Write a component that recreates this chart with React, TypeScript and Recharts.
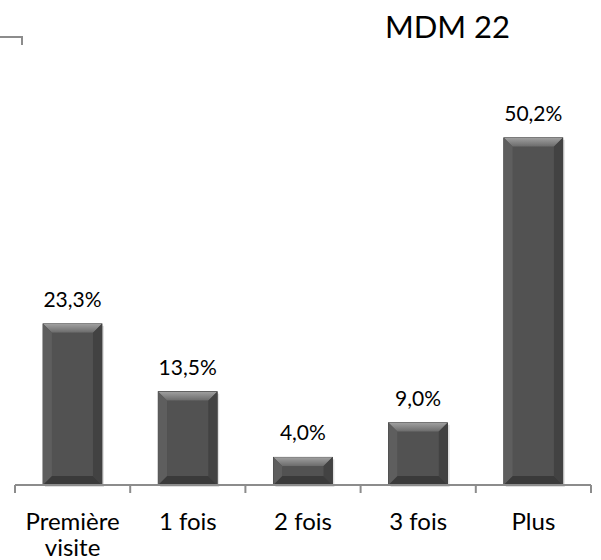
import React from 'react';
import { BarChart, Bar, XAxis, YAxis, LabelList } from 'recharts';

const categories = ['Première visite', '1 fois', '2 fois', '3 fois', 'Plus'];
const tickLabelLines = [['Première', 'visite'], ['1 fois'], ['2 fois'], ['3 fois'], ['Plus']];
const values = [23.3, 13.5, 4.0, 9.0, 50.2];
const title = 'MDM 22';

const data = categories.map((c, i) => ({ name: c, value: values[i] }));

const W = 601;
const H = 560;
const M = { top: 70, right: 10, left: 15, bottom: 0 };
const XAXIS_H = 75;
const BAND = (W - M.left - M.right) / categories.length;
const FONT = 'Lato, "Open Sans", sans-serif';

const BevelBar = (props: any) => {
  const { x, y, width, height, index } = props;
  if (!height || height <= 0) return null;
  const b = Math.min(9, height / 2, width / 2);
  const id = `tg${index}`;
  return (
    <g>
      <defs>
        <linearGradient id={id} x1="0" y1="0" x2="0" y2="1">
          <stop offset="0%" stopColor="#a0a0a0" />
          <stop offset="100%" stopColor="#6a6a6a" />
        </linearGradient>
      </defs>
      <rect x={x + 2} y={y + 2} width={width} height={height} fill="#000" opacity={0.12} />
      <rect x={x} y={y} width={width} height={height} fill="#4f4f4f" stroke="#2e2e2e" strokeWidth={0.8} />
      <polygon points={`${x},${y} ${x + width},${y} ${x + width - b},${y + b} ${x + b},${y + b}`} fill={`url(#${id})`} />
      <polygon points={`${x},${y} ${x + b},${y + b} ${x + b},${y + height - b} ${x},${y + height}`} fill="#5e5e5e" />
      <polygon points={`${x + width},${y} ${x + width - b},${y + b} ${x + width - b},${y + height - b} ${x + width},${y + height}`} fill="#424242" />
      <polygon points={`${x},${y + height} ${x + b},${y + height - b} ${x + width - b},${y + height - b} ${x + width},${y + height}`} fill="#3a3a3a" />
      <rect x={x + b} y={y + b} width={Math.max(0, width - 2 * b)} height={Math.max(0, height - 2 * b)} fill="#525252" />
    </g>
  );
};

const CatTick = (props: any) => {
  const { x, y, index } = props;
  const axisY = y - 8;
  const last = index === categories.length - 1;
  const lines = tickLabelLines[index] || [];
  return (
    <g>
      <line x1={x - BAND / 2} y1={axisY} x2={x - BAND / 2} y2={axisY + 8} stroke="#8c8c8c" strokeWidth={2} />
      {last && <line x1={x + BAND / 2} y1={axisY} x2={x + BAND / 2} y2={axisY + 8} stroke="#8c8c8c" strokeWidth={2} />}
      <text x={x} y={axisY + 45} textAnchor="middle" fontSize={24} fontFamily={FONT} fill="#000">
        {lines.map((l, i) => (
          <tspan key={i} x={x} dy={i === 0 ? 0 : 26}>
            {l}
          </tspan>
        ))}
      </text>
    </g>
  );
};

const fmt = (v: any) => `${Number(v).toFixed(1).replace('.', ',')}%`;

export default function App() {
  return (
    <div style={{ position: 'absolute', left: 0, top: 0, width: W, height: H, background: '#fff' }}>
      <svg width={30} height={50} style={{ position: 'absolute', left: 0, top: 0 }}>
        <path d="M0 37 H22 V45" fill="none" stroke="#8c8c8c" strokeWidth={2} />
      </svg>
      <div
        style={{
          position: 'absolute',
          left: 385,
          top: 8,
          fontFamily: FONT,
          fontSize: 31,
          lineHeight: '36px',
          color: '#000',
          whiteSpace: 'nowrap',
        }}
      >
        {title}
      </div>
      <BarChart width={W} height={H} data={data} margin={M} barCategoryGap="24.3%">
        <XAxis
          dataKey="name"
          height={XAXIS_H}
          axisLine={{ stroke: '#8c8c8c', strokeWidth: 2 }}
          tickLine={false}
          tickSize={8}
          tickMargin={0}
          interval={0}
          tick={<CatTick />}
        />
        <YAxis hide domain={[0, 60]} />
        <Bar dataKey="value" isAnimationActive={false} shape={<BevelBar />}>
          <LabelList
            dataKey="value"
            position="top"
            offset={17}
            formatter={fmt}
            fontSize={21}
            fontFamily={FONT}
            fill="#000"
          />
        </Bar>
      </BarChart>
    </div>
  );
}
